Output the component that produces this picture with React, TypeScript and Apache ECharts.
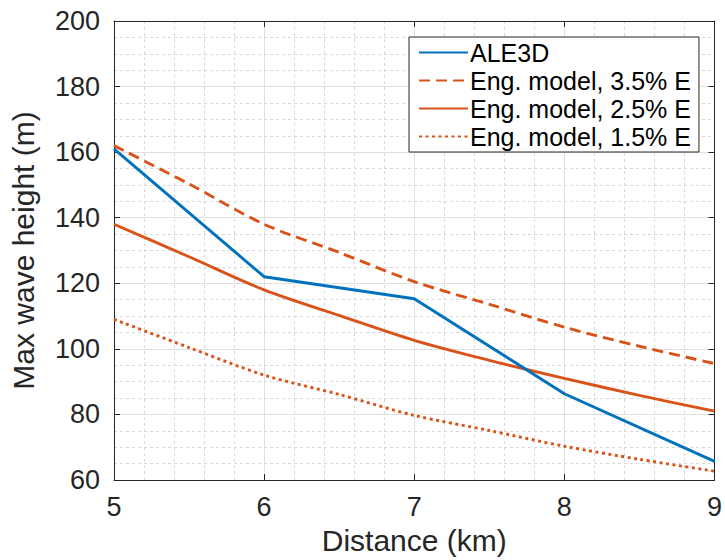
import React, { useEffect, useRef } from "react";
import * as echarts from "echarts";

const FONT = "'Liberation Sans', Arial, Helvetica, sans-serif";

const ale3dX = [5, 6, 7, 8, 9];
const ale3dY = [161, 122, 115.3, 86.3, 65.7];

const modelX = [5, 5.5, 6, 6.5, 7, 7.5, 8, 8.5, 9];
const model35 = [162, 150.3, 138, 129.4, 120.5, 113.6, 106.6, 100.8, 95.5];
const model25 = [138, 128.1, 118, 110.2, 102.6, 96.5, 91, 85.8, 81];
const model15 = [109, 100.4, 92, 86.1, 79.7, 75.1, 70.3, 66.3, 62.7];

const seriesNames = [
  "ALE3D",
  "Eng. model, 3.5% E",
  "Eng. model, 2.5% E",
  "Eng. model, 1.5% E",
];

const xTicks = { min: 5, max: 9, interval: 1 };
const yTicks = { min: 60, max: 200, interval: 20 };

const BLUE = "#0072BD";
const ORANGE = "#D95319";
const AXIS = "#262626";
const LW = 2.9;

function pairs(xs: number[], ys: number[]) {
  return xs.map((x, i) => [x, ys[i]]);
}

export default function App() {
  const ref = useRef<HTMLDivElement>(null);
  useEffect(() => {
    document.body.style.margin = "0";
    if (!ref.current) return;
    const chart = echarts.init(ref.current, null, { renderer: "svg" });
    const axisCommon = {
      axisLine: { show: true, lineStyle: { color: AXIS, width: 1 } },
      axisTick: { show: true, inside: true, length: 6, lineStyle: { color: AXIS } },
    };
    chart.setOption({
      animation: false,
      backgroundColor: "#ffffff",
      textStyle: { fontFamily: FONT },
      grid: { left: 110, top: 21, right: 6, bottom: 76, containLabel: false },
      legend: {
        orient: "vertical",
        left: 409,
        top: 37,
        width: 295,
        align: "left",
        backgroundColor: "#ffffff",
        borderColor: AXIS,
        borderWidth: 1,
        borderRadius: 0,
        padding: [2, 8, 2, 9],
        itemWidth: 49,
        itemHeight: 20,
        itemGap: 1,
        itemStyle: { opacity: 0 },
        textStyle: {
          fontFamily: FONT,
          fontSize: 25,
          lineHeight: 27,
          color: "#000000",
          padding: [0, 0, 0, -3],
        },
        data: seriesNames,
      },
      xAxis: [
        {
          type: "value",
          position: "bottom",
          ...xTicks,
          name: "Distance (km)",
          nameLocation: "middle",
          nameGap: 45,
          nameTextStyle: { fontFamily: FONT, fontSize: 30, color: AXIS },
          ...axisCommon,
          axisLabel: { fontFamily: FONT, fontSize: 27, color: AXIS, margin: 13 },
          splitLine: { show: true, lineStyle: { color: "#e0e0e0", width: 1 } },
          minorTick: { show: false, splitNumber: 5 },
          minorSplitLine: { show: true, lineStyle: { color: "#d8d8d8", width: 1, type: [3, 3] } },
        },
        {
          type: "value",
          position: "top",
          ...xTicks,
          ...axisCommon,
          axisLabel: { show: false },
          splitLine: { show: false },
        },
      ],
      yAxis: [
        {
          type: "value",
          position: "left",
          ...yTicks,
          name: "Max wave height (m)",
          nameLocation: "middle",
          nameGap: 76,
          nameRotate: 90,
          nameTextStyle: { fontFamily: FONT, fontSize: 30, color: AXIS },
          ...axisCommon,
          axisLabel: { fontFamily: FONT, fontSize: 27, color: AXIS, margin: 14 },
          splitLine: { show: true, lineStyle: { color: "#e0e0e0", width: 1 } },
          minorTick: { show: false, splitNumber: 4 },
          minorSplitLine: { show: true, lineStyle: { color: "#d8d8d8", width: 1, type: [3, 3] } },
        },
        {
          type: "value",
          position: "right",
          ...yTicks,
          ...axisCommon,
          axisLabel: { show: false },
          splitLine: { show: false },
        },
      ],
      series: [
        {
          name: seriesNames[0],
          type: "line",
          xAxisIndex: 0,
          yAxisIndex: 0,
          data: pairs(ale3dX, ale3dY),
          symbol: "none",
          lineStyle: { color: BLUE, width: LW },
          itemStyle: { color: BLUE },
          z: 5,
        },
        {
          name: seriesNames[1],
          type: "line",
          xAxisIndex: 0,
          yAxisIndex: 0,
          data: pairs(modelX, model35),
          symbol: "none",
          smooth: 0.3,
          lineStyle: { color: ORANGE, width: LW, type: [11, 6] },
          itemStyle: { color: ORANGE },
        },
        {
          name: seriesNames[2],
          type: "line",
          xAxisIndex: 0,
          yAxisIndex: 0,
          data: pairs(modelX, model25),
          symbol: "none",
          smooth: 0.3,
          lineStyle: { color: ORANGE, width: LW },
          itemStyle: { color: ORANGE },
        },
        {
          name: seriesNames[3],
          type: "line",
          xAxisIndex: 0,
          yAxisIndex: 0,
          data: pairs(modelX, model15),
          symbol: "none",
          smooth: 0.3,
          lineStyle: { color: ORANGE, width: LW, type: [3, 3.5] },
          itemStyle: { color: ORANGE },
        },
      ],
    });
    return () => chart.dispose();
  }, []);
  return <div ref={ref} style={{ width: 725, height: 560 }} />;
}
